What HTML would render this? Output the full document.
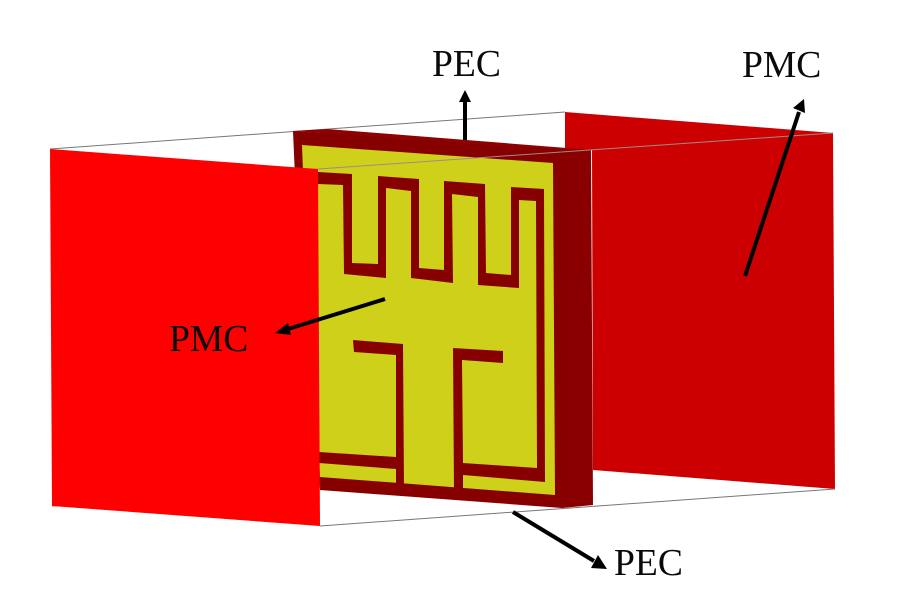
<!DOCTYPE html>
<html>
<head>
<meta charset="utf-8">
<style>
html,body{margin:0;padding:0;background:#fff;width:900px;height:600px;overflow:hidden}
svg{display:block}
text{font-family:"Liberation Serif",serif;font-size:37.6px;fill:#0a0a0a}
</style>
</head>
<body>
<svg width="900" height="600" viewBox="0 0 900 600" xmlns="http://www.w3.org/2000/svg">
<rect width="900" height="600" fill="#fff"/>
<!-- back wires -->
<line x1="50" y1="149" x2="565" y2="112" stroke="#777" stroke-width="1"/>
<line x1="52" y1="506" x2="320" y2="487" stroke="#777" stroke-width="1"/>
<!-- right PMC panel -->
<polygon points="565,112 833,133 835,489 593,470 592,150 565,150" fill="#cc0000"/>
<!-- substrate -->
<polygon points="293,131 327,129 592,150 562,152" fill="#8f0000"/>
<polygon points="293,131 562,150 562,508 320,490 296,200" fill="#860000"/>
<polygon points="562,150 591,150 593,505 562,508" fill="#8a0000"/>
<polygon points="302,145 553,163 555,495 320,477 304,200" fill="#cfd01a"/>
<!-- meander -->
<polygon fill="#860000" points="318,172 352,174 352,263 378,264 378,176 419,179 419,268 444,270 444,181 485,184 486,273 511,275 511,187 544,189 545,482 463,475 463,492 454,492 453,348 503,351 503,363 462,360 463,463 537,468 536,201 519,200 519,288 478,285 478,197 452,194 453,283 411,278 411,191 386,188 386,278 344,274 343,185 318,184"/>
<polygon fill="#860000" points="353,340 403,344 404,490 396,490 396,469 319,463 319,452 396,457 396,355 354,352"/>
<!-- front wires -->
<line x1="318" y1="169" x2="833" y2="133" stroke="#a08a8a" stroke-width="1"/>
<line x1="320" y1="526" x2="835" y2="489" stroke="#777" stroke-width="1"/>
<!-- left PMC panel -->
<polygon points="50,149 318,169 320,526 52,506" fill="#ff0000"/>
<!-- arrows -->
<g stroke="#000" stroke-width="4" fill="#000">
<line x1="465" y1="140" x2="465" y2="100"/>
<line x1="745" y1="276" x2="799" y2="112"/>
<line x1="385" y1="299" x2="288" y2="329"/>
<line x1="513" y1="512" x2="594" y2="561"/>
</g>
<polygon points="465,90 459,102 471,102" fill="#000"/>
<polygon points="804,99 793,108 805,113" fill="#000"/>
<polygon points="275,333 288,323 291,335" fill="#000"/>
<polygon points="607,569 591,568 598,555" fill="#000"/>
<!-- labels -->
<text x="432" y="76">PEC</text>
<text x="742" y="77">PMC</text>
<text x="169" y="351">PMC</text>
<text x="614" y="575">PEC</text>
</svg>
</body>
</html>
